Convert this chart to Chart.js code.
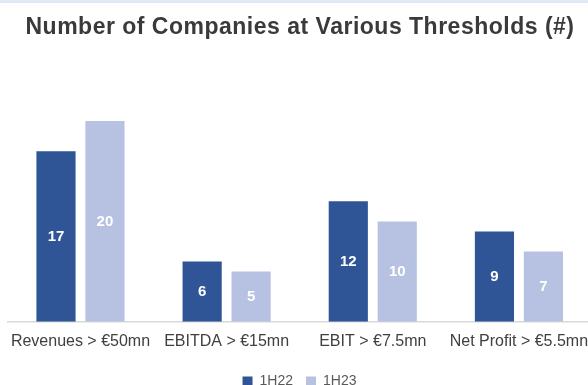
<!DOCTYPE html>
<html>
<head>
<meta charset="utf-8">
<script src="https://cdn.jsdelivr.net/npm/chart.js@4.4.1/dist/chart.umd.min.js"></script>
<style>
  html, body { margin: 0; padding: 0; background: #fff; overflow: hidden; }
  #wrap { position: relative; width: 600px; height: 398px; }
  #band { position: absolute; left: 0; top: 0; width: 100%; height: 3px; background: #dfe9f3; }
</style>
</head>
<body>
<div id="wrap">
  <canvas id="chart"></canvas>
  <div id="band"></div>
</div>
<script>
const chartTitle = "Number of Companies at Various Thresholds (#)";
const categories = ["Revenues > €50mn", "EBITDA > €15mn", "EBIT > €7.5mn", "Net Profit > €5.5mn"];
const seriesNames = ["1H22", "1H23"];
const values1H22 = [17, 6, 12, 9];
const values1H23 = [20, 5, 10, 7];

const FONT = "'Liberation Sans', Arial, sans-serif";

// heading, drawn by hand so it can be letter-spaced
const headline = {
  id: "headline",
  afterDraw(chart) {
    const ctx = chart.ctx;
    ctx.save();
    ctx.fillStyle = "#3a3a3a";
    ctx.font = "bold 23px " + FONT;
    ctx.letterSpacing = "0.5px";
    ctx.textAlign = "center";
    ctx.textBaseline = "middle";
    ctx.fillText(chartTitle, 300, 28);
    ctx.restore();
  }
};

// write each value in white in the middle of its bar
const barLabels = {
  id: "barLabels",
  afterDatasetsDraw(chart) {
    const ctx = chart.ctx;
    ctx.save();
    ctx.fillStyle = "#ffffff";
    ctx.font = "bold 15px " + FONT;
    ctx.textAlign = "center";
    ctx.textBaseline = "middle";
    chart.data.datasets.forEach((ds, i) => {
      chart.getDatasetMeta(i).data.forEach((bar, j) => {
        ctx.fillText(String(ds.data[j]), bar.x, (bar.y + bar.base) / 2);
      });
    });
    ctx.restore();
  }
};

new Chart(document.getElementById("chart"), {
  type: "bar",
  data: {
    labels: categories,
    datasets: [
      { label: seriesNames[0], data: values1H22, backgroundColor: "#2f5597" },
      { label: seriesNames[1], data: values1H23, backgroundColor: "#b7c2e2" }
    ]
  },
  options: {
    responsive: true,
    maintainAspectRatio: false,
    animation: false,
    layout: { padding: { left: 7, right: 8, top: 101, bottom: 0 } },
    datasets: {
      bar: { categoryPercentage: 0.67, barPercentage: 0.8 }
    },
    scales: {
      x: {
        grid: { display: false, drawTicks: false },
        border: { color: "#d9d9d9", width: 1.5 },
        ticks: { color: "#404040", font: { family: FONT, size: 16 }, padding: 10, maxRotation: 0, autoSkip: false }
      },
      y: {
        display: false,
        min: 0,
        max: 22
      }
    },
    plugins: {
      legend: {
        position: "bottom",
        labels: {
          color: "#595959",
          font: { family: FONT, size: 14 },
          boxWidth: 10,
          boxHeight: 9,
          padding: 13
        }
      },
      tooltip: { enabled: false }
    }
  },
  plugins: [barLabels, headline]
});
</script>
</body>
</html>
